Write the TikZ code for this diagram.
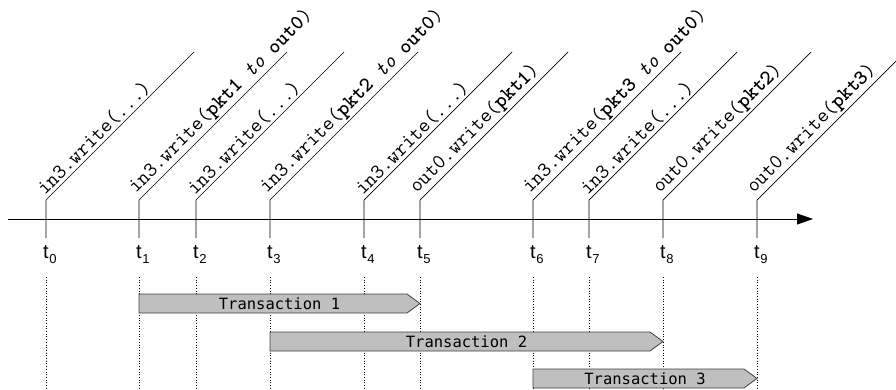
\documentclass[tikz,border=0pt]{standalone}
\usepackage{fontspec}
\setmainfont{Liberation Sans}
\newfontfamily\barfont{DejaVu Sans Mono}
\usetikzlibrary{arrows.meta, calc}

\begin{document}
\begin{tikzpicture}[
    x=1pt,
    y=-1pt,
    timeline/.style={
        -{Triangle[length=16pt,width=11pt]},
        line width=0.8pt
    },
    tick/.style={
        line width=0.7pt
    },
    guide/.style={
        dotted,
        line width=0.7pt
    },
    call/.style={
        rotate=45,
        anchor=south west,
        inner sep=2pt,
        font=\fontsize{21}{24}\selectfont\ttfamily
    },
    stamp/.style={
        anchor=north,
        inner sep=0pt,
        font=\fontsize{20}{22}\selectfont
    },
    bar/.style={
        draw=black!75,
        fill=black!25,
        line width=0.8pt
    },
    barlabel/.style={
        font=\fontsize{15.5}{18}\selectfont\barfont
    }
]

\useasboundingbox (0,0) rectangle (896,390);
\clip (0,0) rectangle (896,390);

\foreach \x [count=\i from 0] in {46,139,196,270,364,420,533,589,663,757}
    \coordinate (t\i) at (\x,219);

\coordinate (origin) at (8,219);
\coordinate (tip) at (813,219);
\draw[timeline] (origin) -- (tip);

\foreach \i in {0,...,9} {
    \draw[tick] ($(t\i)+(0,19)$) -- ($(t\i)+(0,-19)$) -- ++(148,-148);
    \node[stamp] (stamp\i) at ($(t\i)+(0,26)$)
        {t\rlap{\kern0.5pt\raisebox{-5.5pt}{\fontsize{13}{14}\selectfont\i}}};
    \draw[guide] ($(t\i)+(0,58)$) -- ($(t\i)+(0,169)$);
}

\node[call] (call0) at ($(t0)+(0,-19)$) {in3.write(...)};
\node[call] (call1) at ($(t1)+(0,-19)$)
    {in3.write(\textbf{pkt1} \textit{to} \textbf{out0})};
\node[call] (call2) at ($(t2)+(0,-19)$) {in3.write(...)};
\node[call] (call3) at ($(t3)+(0,-19)$)
    {in3.write(\textbf{pkt2} \textit{to} \textbf{out0})};
\node[call] (call4) at ($(t4)+(0,-19)$) {in3.write(...)};
\node[call] (call5) at ($(t5)+(0,-19)$) {out0.write(\textbf{pkt1})};
\node[call] (call6) at ($(t6)+(0,-19)$)
    {in3.write(\textbf{pkt3} \textit{to} \textbf{out0})};
\node[call] (call7) at ($(t7)+(0,-19)$) {in3.write(...)};
\node[call] (call8) at ($(t8)+(0,-19)$) {out0.write(\textbf{pkt2})};
\node[call] (call9) at ($(t9)+(0,-19)$) {out0.write(\textbf{pkt3})};

\foreach \a/\b/\d/\n in {1/5/84.5/1, 3/8/122.5/2, 6/9/159.5/3} {
    \draw[bar] ($(t\a)+(0,\d-9.5)$) -- ($(t\b)+(-13,\d-9.5)$)
        -- ($(t\b)+(0,\d)$) -- ($(t\b)+(-13,\d+9.5)$)
        -- ($(t\a)+(0,\d+9.5)$) -- cycle;
    \node[barlabel] (tx\n) at ($(t\a)!0.5!(t\b)+(0,\d)$) {Transaction \n};
}

\end{tikzpicture}
\end{document}
